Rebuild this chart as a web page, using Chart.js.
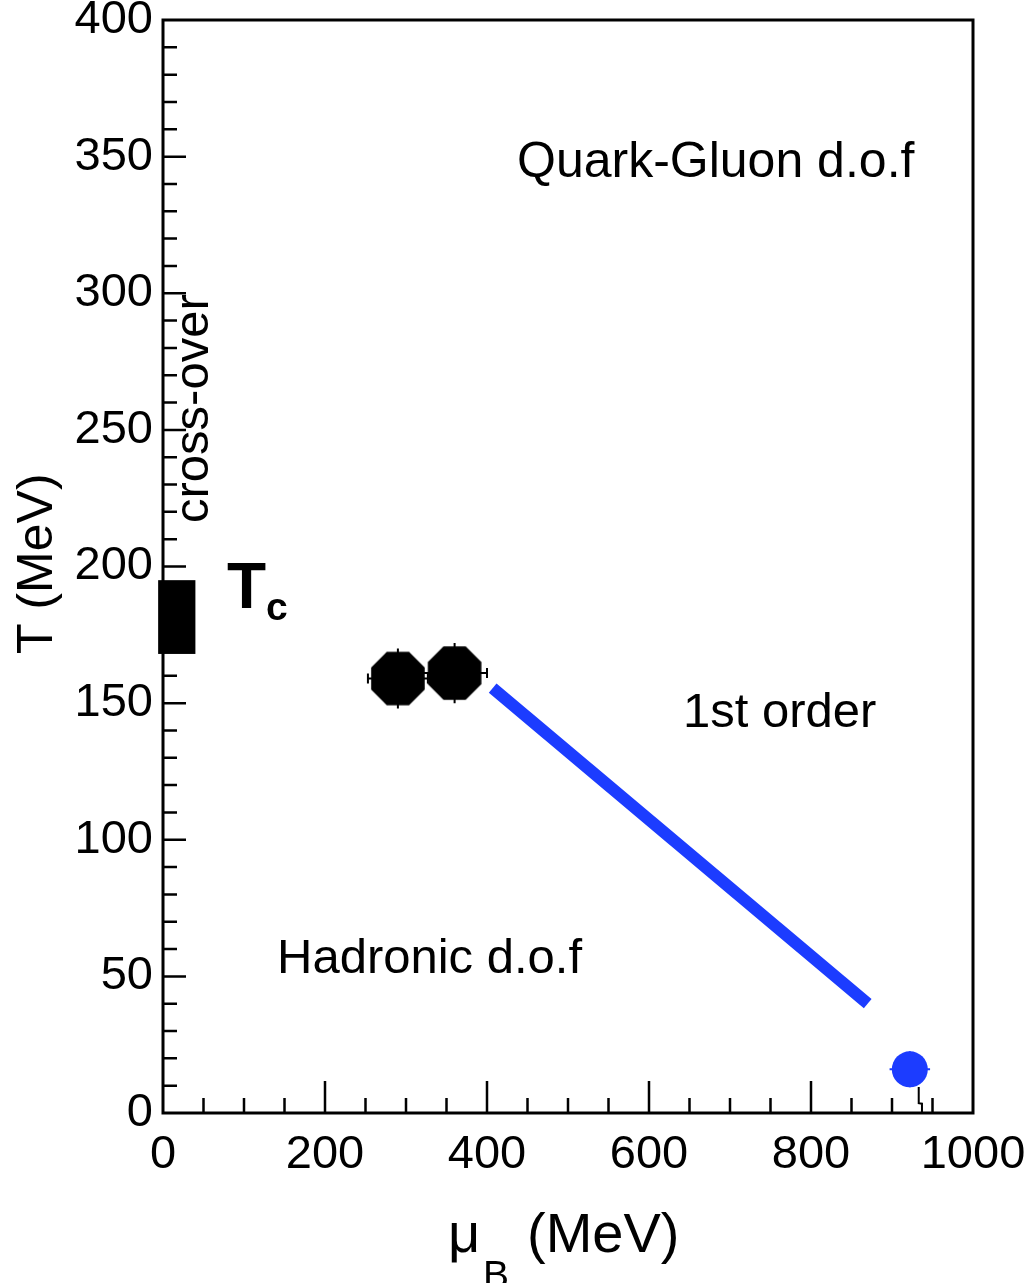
<!DOCTYPE html>
<html>
<head>
  <title>QCD phase diagram</title>
  <style>
    body { margin: 0; background: #fff; }
    canvas { display: block; }
  </style>
</head>
<body>
<canvas id="phase" width="1029" height="1283"></canvas>

<script src="https://cdn.jsdelivr.net/npm/chart.js"></script>
<script>
// values, all in MeV
const tcMu = [-6, 40];          // cross-over Tc band, mu_B range
const tcT = [168, 195];         // Tc band, T range
const pointMu = [290, 360];     // freeze-out points
const pointT = [159, 161];
const pointMuErr = [37, 40];
const pointTErr = [11, 11];
const lineMu = [407, 870];      // 1st order line
const lineT = [155.5, 40];
const nucMu = [922];            // nuclear matter point
const nucT = [16];
const nucMuErr = [25];
const nucTErr = [6.6];
const tailMu = [933, 933, 937, 937];
const tailT = [9.5, 3.6, 3.4, 0];

const FONT = '"Liberation Sans", Arial, sans-serif';
const BLUE = '#1c3cff';

function octagon(r) {
  const c = document.createElement('canvas');
  c.width = c.height = Math.ceil(2 * r) + 2;
  const g = c.getContext('2d');
  const m = c.width / 2;
  g.beginPath();
  for (let i = 0; i < 8; i++) {
    const a = Math.PI / 8 + i * Math.PI / 4;
    g.lineTo(m + r * Math.cos(a), m + r * Math.sin(a));
  }
  g.closePath();
  g.fillStyle = '#000';
  g.fill();
  return c;
}

function pts(xs, ys) {
  return xs.map((v, i) => ({ x: v, y: ys[i] }));
}

function errBar(ctx, x, y, mu, t, dmu, dt, cap) {
  const px = x.getPixelForValue(mu), py = y.getPixelForValue(t);
  const l = x.getPixelForValue(mu - dmu), r = x.getPixelForValue(mu + dmu);
  const top = y.getPixelForValue(t + dt), bot = y.getPixelForValue(t - dt);
  ctx.beginPath();
  ctx.moveTo(l, py); ctx.lineTo(r, py);
  ctx.moveTo(px, top); ctx.lineTo(px, bot);
  if (cap) {
    ctx.moveTo(l, py - cap); ctx.lineTo(l, py + cap);
    ctx.moveTo(r, py - cap); ctx.lineTo(r, py + cap);
  }
  ctx.stroke();
}

const decor = {
  id: 'decor',
  beforeDatasetsDraw(chart) {
    const { ctx, scales: { x, y } } = chart;
    ctx.save();
    // Tc band on the T axis
    ctx.fillStyle = '#000';
    const x0 = x.getPixelForValue(tcMu[0]), x1 = x.getPixelForValue(tcMu[1]);
    const y0 = y.getPixelForValue(tcT[1]), y1 = y.getPixelForValue(tcT[0]);
    ctx.fillRect(x0, y0, x1 - x0, y1 - y0);

    ctx.lineWidth = 2;
    ctx.strokeStyle = '#000';
    pointMu.forEach((m, i) => errBar(ctx, x, y, m, pointT[i], pointMuErr[i], pointTErr[i], 5));
    ctx.strokeStyle = BLUE;
    nucMu.forEach((m, i) => errBar(ctx, x, y, m, nucT[i], nucMuErr[i], nucTErr[i], 0));
    ctx.restore();
  },
  afterDraw(chart) {
    const { ctx, chartArea: a, scales: { x, y } } = chart;
    ctx.save();
    ctx.strokeStyle = '#000';

    // inward ROOT-style ticks
    ctx.lineWidth = 2.5;
    ctx.beginPath();
    for (let v = 50; v < 1000; v += 50) {
      const p = x.getPixelForValue(v);
      const len = v % 200 === 0 ? 32 : 15;
      ctx.moveTo(p, a.bottom); ctx.lineTo(p, a.bottom - len);
    }
    for (let v = 10; v < 400; v += 10) {
      const p = y.getPixelForValue(v);
      const len = v % 50 === 0 ? 23 : 14;
      ctx.moveTo(a.left, p); ctx.lineTo(a.left + len, p);
    }
    ctx.stroke();

    // frame
    ctx.lineWidth = 3;
    ctx.strokeRect(a.left, a.top, a.right - a.left, a.bottom - a.top);

    // region labels
    ctx.fillStyle = '#000';
    ctx.textAlign = 'left';
    ctx.textBaseline = 'alphabetic';
    ctx.font = '50px ' + FONT;
    ctx.fillText('Quark-Gluon d.o.f', 517, 177);
    ctx.font = '49px ' + FONT;
    ctx.fillText('1st order', 683, 727);
    ctx.fillText('Hadronic d.o.f', 277, 973);

    ctx.save();
    ctx.translate(208, 523);
    ctx.rotate(-Math.PI / 2);
    ctx.fillText('cross-over', 0, 0);
    ctx.restore();

    // T_c
    ctx.font = 'bold 64px ' + FONT;
    ctx.fillText('T', 227, 608);
    ctx.font = 'bold 39px ' + FONT;
    ctx.fillText('c', 266, 620);

    // axis titles
    ctx.font = '50px ' + FONT;
    ctx.save();
    ctx.translate(52, 654);
    ctx.rotate(-Math.PI / 2);
    ctx.fillText('T (MeV)', 0, 0);
    ctx.restore();

    ctx.font = '56px ' + FONT;
    ctx.fillText('\u03bc', 448, 1252);
    ctx.fillText('(MeV)', 527, 1252);
    ctx.font = '39px ' + FONT;
    ctx.fillText('B', 483, 1288);
    ctx.restore();
  }
};

new Chart(document.getElementById('phase'), {
  type: 'scatter',
  data: {
    datasets: [
      {
        label: 'freeze-out',
        data: pts(pointMu, pointT),
        pointStyle: octagon(29),
        pointRadius: 28
      },
      {
        label: 'nuclear matter',
        data: pts(nucMu, nucT),
        pointStyle: 'circle',
        pointRadius: 18,
        backgroundColor: BLUE,
        borderWidth: 0
      },
      {
        label: '1st order',
        data: pts(lineMu, lineT),
        showLine: true,
        borderColor: BLUE,
        borderWidth: 12,
        borderCapStyle: 'butt',
        pointRadius: 0
      },
      {
        label: 'tail',
        data: pts(tailMu, tailT),
        showLine: true,
        borderColor: '#000',
        borderWidth: 2,
        pointRadius: 0
      }
    ]
  },
  options: {
    responsive: false,
    animation: false,
    devicePixelRatio: 1,
    layout: { autoPadding: false, padding: { left: 0, top: 20, right: 56, bottom: 0 } },
    plugins: { legend: { display: false }, tooltip: { enabled: false } },
    scales: {
      x: {
        type: 'linear',
        min: 0,
        max: 1000,
        grid: { display: false, drawTicks: false },
        border: { display: false },
        ticks: {
          stepSize: 200, padding: 14, color: '#000', maxRotation: 0,
          font: { family: FONT, size: 47 },
          callback: v => String(v)
        },
        afterFit(s) { s.height = 170; s.paddingLeft = 0; s.paddingRight = 0; }
      },
      y: {
        type: 'linear',
        min: 0,
        max: 400,
        grid: { display: false, drawTicks: false },
        border: { display: false },
        ticks: {
          stepSize: 50, padding: 10, color: '#000',
          font: { family: FONT, size: 47, lineHeight: 0.8 },
          callback: v => String(v)
        },
        afterFit(s) { s.width = 163; s.paddingTop = 0; s.paddingBottom = 0; }
      }
    }
  },
  plugins: [decor]
});
</script>
</body>
</html>
